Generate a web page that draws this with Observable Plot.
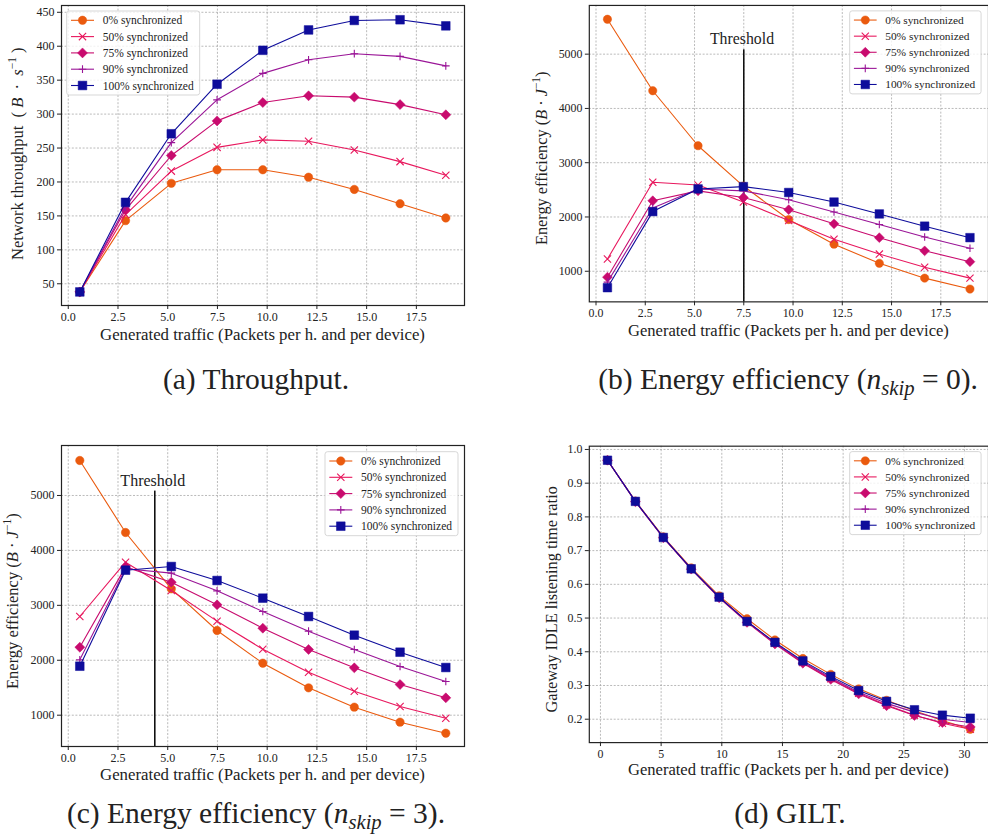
<!DOCTYPE html>
<html>
<head>
<meta charset="utf-8">
<script src="https://cdn.jsdelivr.net/npm/d3@7"></script>
<script src="https://cdn.jsdelivr.net/npm/@observablehq/plot@0.6"></script>
<style>
  html, body { margin: 0; padding: 0; background: #fff; }
  body { width: 988px; height: 838px; overflow: hidden; position: relative; font-family: "Liberation Serif", serif; }
  .panel { position: absolute; }
</style>
</head>
<body>
<script>
// ---------- series ----------
const seriesNames = ["0% synchronized", "50% synchronized", "75% synchronized", "90% synchronized", "100% synchronized"];
const seriesColors = ["#EA5A0E", "#E8175D", "#C80B6E", "#9A1597", "#0E0C9B"];
const seriesSymbols = ["circle", "times", "diamond2", "plus", "square"];

// ---------- x values ----------
const traffic = [0.58, 2.88, 5.18, 7.48, 9.78, 12.08, 14.38, 16.68, 18.98];
const trafficGilt = [0.58, 2.88, 5.18, 7.48, 9.78, 12.08, 14.38, 16.68, 18.98, 21.28, 23.58, 25.88, 28.18, 30.48];

// ---------- (a) Throughput ----------
const throughput0   = [38, 143, 198, 218, 218, 207, 189, 168, 147];
const throughput50  = [38, 152, 216, 251, 262, 260, 247, 230, 210];
const throughput75  = [38, 159, 239, 290, 317, 327, 325, 314, 299];
const throughput90  = [38, 163, 258, 321, 360, 380, 389, 385, 371];
const throughput100 = [38, 170, 271, 344, 394, 424, 438, 439, 430];

// ---------- (b) Energy efficiency n_skip = 0 ----------
const energySkip0_0   = [5643, 4326, 3313, 2570, 1953, 1498, 1146, 873, 672];
const energySkip0_50  = [1225, 2639, 2590, 2275, 1935, 1589, 1316, 1073, 873];
const energySkip0_75  = [891, 2299, 2481, 2360, 2135, 1874, 1619, 1376, 1176];
const energySkip0_90  = [800, 2165, 2517, 2481, 2317, 2093, 1862, 1631, 1425];
const energySkip0_100 = [697, 2099, 2517, 2560, 2451, 2275, 2056, 1831, 1619];

// ---------- (c) Energy efficiency n_skip = 3 ----------
const energySkip3_0   = [5637, 4326, 3300, 2542, 1947, 1498, 1146, 873, 672];
const energySkip3_50  = [2797, 3786, 3270, 2712, 2202, 1783, 1437, 1158, 945];
const energySkip3_75  = [2238, 3700, 3422, 3009, 2584, 2196, 1862, 1558, 1316];
const energySkip3_90  = [2008, 3665, 3586, 3264, 2888, 2530, 2196, 1886, 1613];
const energySkip3_100 = [1892, 3640, 3707, 3452, 3131, 2797, 2457, 2147, 1868];

// ---------- (d) GILT ----------
const gilt0   = [0.968, 0.847, 0.741, 0.649, 0.566, 0.498, 0.435, 0.380, 0.333, 0.290, 0.256, 0.225, 0.196, 0.170];
const gilt50  = [0.968, 0.846, 0.739, 0.646, 0.562, 0.490, 0.425, 0.368, 0.320, 0.277, 0.242, 0.212, 0.188, 0.170];
const gilt75  = [0.968, 0.845, 0.738, 0.645, 0.560, 0.487, 0.423, 0.366, 0.318, 0.275, 0.240, 0.211, 0.190, 0.177];
const gilt90  = [0.968, 0.846, 0.739, 0.646, 0.561, 0.489, 0.426, 0.370, 0.323, 0.280, 0.247, 0.221, 0.200, 0.190];
const gilt100 = [0.968, 0.846, 0.739, 0.646, 0.562, 0.490, 0.428, 0.373, 0.327, 0.285, 0.253, 0.228, 0.212, 0.203];

// ---------- ticks ----------
const trafficTicks = [0, 2.5, 5, 7.5, 10, 12.5, 15, 17.5];
const giltTrafficTicks = [0, 5, 10, 15, 20, 25, 30];
const throughputTicks = [50, 100, 150, 200, 250, 300, 350, 400, 450];
const energyTicks = [1000, 2000, 3000, 4000, 5000];
const giltTicks = [0.2, 0.3, 0.4, 0.5, 0.6, 0.7, 0.8, 0.9, 1.0];

// ---------- thresholds ----------
const thresholdLabel = "Threshold";
const thresholdSkip0 = 7.5;
const thresholdSkip3 = 4.35;
const thresholdTop = 5080;

// ---------- styles ----------
const FONT = "Liberation Serif";
const TEXT = "#222";
const symbolRadius = {circle: 4.2, times: 3.4, diamond2: 4.5, plus: 2.6, square: 4.9};
const symbolFilled = {circle: true, times: false, diamond2: true, plus: false, square: true};
const d3Symbols = {circle: d3.symbolCircle, times: d3.symbolTimes, diamond2: d3.symbolDiamond2, plus: d3.symbolPlus, square: d3.symbolSquare};
const gridStyle = {stroke: "#a8a8a8", strokeOpacity: 1, strokeWidth: 0.8, strokeDasharray: "2,1.6"};

function legendMark(box) {
  return () => {
    const g = d3.create("svg:g");
    g.append("rect").attr("x", box.x).attr("y", box.y).attr("width", box.w).attr("height", box.h)
      .attr("rx", 2.5).attr("fill", "#fff").attr("fill-opacity", 0.8)
      .attr("stroke", "#d2d2d2").attr("stroke-width", 0.9);
    seriesNames.forEach((name, i) => {
      const cy = box.y + 9.3 + i * 16.3;
      const sym = seriesSymbols[i];
      const r = symbolRadius[sym];
      g.append("line").attr("x1", box.x + 4.3).attr("x2", box.x + 27.3).attr("y1", cy).attr("y2", cy)
        .attr("stroke", seriesColors[i]).attr("stroke-width", 1.1);
      g.append("path").attr("transform", `translate(${box.x + 15.8},${cy})`)
        .attr("d", d3.symbol(d3Symbols[sym], Math.PI * r * r)())
        .attr("fill", symbolFilled[sym] ? seriesColors[i] : "none")
        .attr("stroke", seriesColors[i]).attr("stroke-width", symbolFilled[sym] ? 0.5 : 1.1);
      g.append("text").attr("x", box.x + 36).attr("y", cy).attr("dy", "0.35em")
        .attr("text-anchor", "start")
        .attr("font-size", 11.5).attr("font-family", FONT).attr("fill", TEXT).text(name);
    });
    return g.node();
  };
}

function addRichText(parent, o) {
  const t = parent.append("text")
    .attr("font-family", FONT).attr("font-size", o.size).attr("fill", TEXT)
    .attr("text-anchor", o.anchor || "middle");
  if (o.rotate) t.attr("transform", `translate(${o.x},${o.y}) rotate(-90)`);
  else t.attr("x", o.x).attr("y", o.y);
  let shift = 0;
  o.parts.forEach(([str, kind]) => {
    const s = t.append("tspan").text(str);
    if (kind === "i") s.attr("font-style", "italic");
    if (kind === "sup" || kind === "sub") {
      const d = kind === "sup" ? -o.size * 0.42 : o.size * 0.22;
      s.attr("font-size", o.size * 0.7).attr("dy", d - shift);
      if (o.italicScript) s.attr("font-style", "italic");
      shift = d;
    } else if (shift !== 0) {
      s.attr("dy", -shift);
      shift = 0;
    }
  });
  return t;
}

function makePanel(cfg) {
  const marks = [
    Plot.gridX(cfg.xTicks, gridStyle),
    Plot.gridY(cfg.yTicks, gridStyle)
  ];
  if (cfg.threshold != null) {
    marks.push(Plot.ruleX([cfg.threshold], {x: d => d, y1: () => cfg.yDomain[0], y2: () => thresholdTop, stroke: "#111", strokeWidth: 1.6}));
    marks.push(Plot.text([thresholdLabel], {x: () => cfg.thresholdTextX, y: () => cfg.thresholdTextY, text: d => d,
      fontSize: 16, fontFamily: FONT, fill: TEXT, textAnchor: "middle", lineAnchor: "bottom"}));
  }
  cfg.series.forEach((vals, i) => {
    const rows = vals.map((v, j) => ({x: cfg.xs[j], y: v}));
    const sym = seriesSymbols[i];
    marks.push(Plot.line(rows, {x: "x", y: "y", stroke: seriesColors[i], strokeWidth: 1.1}));
    marks.push(Plot.dot(rows, {x: "x", y: "y", symbol: sym, r: symbolRadius[sym],
      fill: symbolFilled[sym] ? seriesColors[i] : "none",
      stroke: seriesColors[i], strokeWidth: symbolFilled[sym] ? 0.5 : 1.1}));
  });
  marks.push(Plot.frame({stroke: "#222", strokeWidth: 1.2}));
  marks.push(Plot.axisX(cfg.xTicks, {tickSize: 4, tickPadding: 3, tickFormat: cfg.xFmt, label: null, fontSize: 12, fontFamily: FONT, fill: TEXT}));
  marks.push(Plot.axisY(cfg.yTicks, {tickSize: 4, tickPadding: 3, tickFormat: cfg.yFmt, label: null, fontSize: 12, fontFamily: FONT, fill: TEXT}));
  marks.push(legendMark(cfg.legend));

  const svg = Plot.plot({
    width: cfg.width, height: cfg.height,
    marginLeft: cfg.ml, marginRight: cfg.mr, marginTop: cfg.mt, marginBottom: cfg.mb,
    style: {fontFamily: FONT, fontSize: "12px", color: TEXT, background: "none", overflow: "visible"},
    x: {domain: cfg.xDomain, label: null},
    y: {domain: cfg.yDomain, label: null},
    marks
  });
  const s = d3.select(svg);
  const fx = cfg.ml + (cfg.width - cfg.ml - cfg.mr) / 2;
  addRichText(s, {x: fx, y: cfg.xLabelY, size: 16.8,
    parts: [["Generated traffic (Packets per h. and per device)"]]});
  addRichText(s, {x: cfg.yLabelX, y: cfg.yLabelY, rotate: true, anchor: "start", size: 16.5,
    parts: cfg.yLabelParts});

  const div = document.createElement("div");
  div.className = "panel";
  div.style.left = cfg.left + "px";
  div.style.top = cfg.top + "px";
  div.appendChild(svg);
  document.body.appendChild(div);
}

// (a)
makePanel({
  left: 0, top: 0, width: 490, height: 350, ml: 61, mr: 26, mt: 5, mb: 45,
  xs: traffic, xDomain: [-0.34, 19.92], yDomain: [18, 460],
  xTicks: trafficTicks, yTicks: throughputTicks,
  xFmt: d3.format(".1f"), yFmt: d3.format("d"),
  series: [throughput0, throughput50, throughput75, throughput90, throughput100],
  legend: {x: 66.7, y: 11, w: 133, h: 84},
  xLabelY: 340, yLabelX: 22.5, yLabelY: 260,
  yLabelParts: [["Network throughput  ( "], ["B", "i"], ["  ·  "], ["s", "i"], ["−1", "sup"], [" )"]]
});

// (b)
makePanel({
  left: 490, top: 0, width: 504, height: 350, ml: 100, mr: 0, mt: 5, mb: 45,
  xs: traffic, xDomain: [-0.34, 19.92], yDomain: [436, 5898],
  xTicks: trafficTicks, yTicks: energyTicks,
  xFmt: d3.format(".1f"), yFmt: d3.format("d"),
  series: [energySkip0_0, energySkip0_50, energySkip0_75, energySkip0_90, energySkip0_100],
  threshold: thresholdSkip0, thresholdTextX: 7.41, thresholdTextY: 5180,
  legend: {x: 364, y: 11, w: 133, h: 84},
  xLabelY: 340, yLabelX: 57.5, yLabelY: 248,
  yLabelParts: [["Energy efficiency ("], ["B", "i"], [" · "], ["J", "i"], ["−1", "sup"], [")"]]
});

// (c)
makePanel({
  left: 0, top: 420, width: 490, height: 370, ml: 61, mr: 26, mt: 25, mb: 44,
  xs: traffic, xDomain: [-0.34, 19.92], yDomain: [430, 5910],
  xTicks: trafficTicks, yTicks: energyTicks,
  xFmt: d3.format(".1f"), yFmt: d3.format("d"),
  series: [energySkip3_0, energySkip3_50, energySkip3_75, energySkip3_90, energySkip3_100],
  threshold: thresholdSkip3, thresholdTextX: 4.25, thresholdTextY: 5170,
  legend: {x: 325, y: 31.7, w: 133, h: 84},
  xLabelY: 359.5, yLabelX: 17.5, yLabelY: 269,
  yLabelParts: [["Energy efficiency ("], ["B", "i"], [" · "], ["J", "i"], ["−1", "sup"], [")"]]
});

// (d)
makePanel({
  left: 490, top: 420, width: 504, height: 370, ml: 100, mr: 0, mt: 26, mb: 44,
  xs: trafficGilt, xDomain: [-0.92, 31.98], yDomain: [0.1306, 1.0097],
  xTicks: giltTrafficTicks, yTicks: giltTicks,
  xFmt: d3.format("d"), yFmt: d3.format(".1f"),
  series: [gilt0, gilt50, gilt75, gilt90, gilt100],
  legend: {x: 364, y: 32, w: 133, h: 84},
  xLabelY: 359.5, yLabelX: 67.5, yLabelY: 296,
  yLabelParts: [["Gateway IDLE listening time ratio"]]
});

// ---------- captions ----------
const cap = d3.select("body").append("svg")
  .attr("width", 988).attr("height", 838)
  .style("position", "absolute").style("left", "0px").style("top", "0px").style("pointer-events", "none");
addRichText(cap, {x: 256, y: 389, size: 29.5, parts: [["(a) Throughput."]]});
addRichText(cap, {x: 788, y: 389, size: 29.5, italicScript: true,
  parts: [["(b) Energy efficiency ("], ["n", "i"], ["skip", "sub"], [" = 0)."]]});
addRichText(cap, {x: 256, y: 823, size: 29.5, italicScript: true,
  parts: [["(c) Energy efficiency ("], ["n", "i"], ["skip", "sub"], [" = 3)."]]});
addRichText(cap, {x: 790, y: 823, size: 29.5, parts: [["(d) GILT."]]});
</script>
</body>
</html>
